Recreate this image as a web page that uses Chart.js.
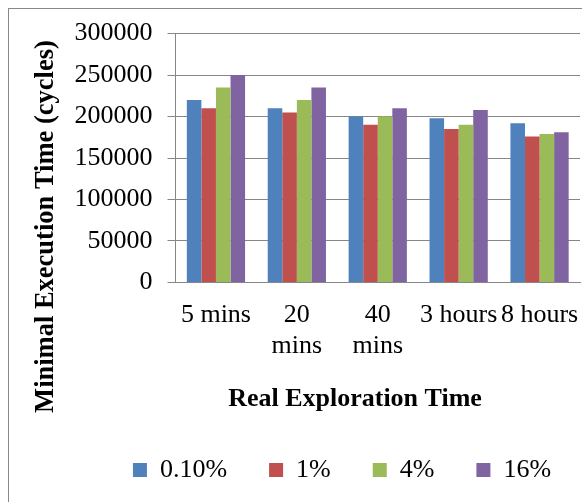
<!DOCTYPE html>
<html>
<head>
<meta charset="utf-8">
<script src="https://cdn.jsdelivr.net/npm/chart.js@4/dist/chart.umd.min.js"></script>
<style>
  html, body { margin: 0; padding: 0; background: #fff; overflow: hidden; width: 582px; height: 502px; }
  #frame { position: absolute; left: 8px; top: 8px; width: 700px; height: 600px;
           border-left: 1px solid #888; border-top: 1px solid #888; background: #fff; }
  canvas { position: absolute; left: 0; top: -6px; }
</style>
</head>
<body>
<div id="frame"><canvas id="c" width="666" height="490"></canvas></div>
<script>
const categories = ['5 mins', ['20', 'mins'], ['40', 'mins'], '3 hours', '8 hours'];
const seriesNames = ['0.10%', '1%', '4%', '16%'];
const s010 = [220000, 210000, 200000, 198000, 192000];
const s1   = [210000, 205000, 190000, 185000, 176000];
const s4   = [235000, 220000, 200000, 190000, 179000];
const s16  = [250000, 235000, 210000, 208000, 181000];
const yTicks = [0, 50000, 100000, 150000, 200000, 250000, 300000];
const colors = ['#4F81BD', '#C0504D', '#9BBB59', '#8064A2'];

const FONT = "'Liberation Serif', 'Times New Roman', serif";
const grey = '#868686';

const datasets = [s010, s1, s4, s16].map((d, i) => ({
  label: seriesNames[i],
  data: d,
  backgroundColor: colors[i],
  borderWidth: 0,
  categoryPercentage: 0.72,
  barPercentage: 1.0
}));

new Chart(document.getElementById('c'), {
  type: 'bar',
  data: { labels: categories, datasets },
  options: {
    responsive: false,
    animation: false,
    devicePixelRatio: 1,
    layout: { padding: { top: 19, left: 0, right: 0, bottom: 0 } },
    plugins: {
      tooltip: { enabled: false },
      legend: {
        position: 'bottom',
        labels: {
          boxWidth: 14, boxHeight: 14, padding: 42,
          color: '#000', font: { family: FONT, size: 26 }
        }
      }
    },
    scales: {
      x: {
        grid: { display: false, drawTicks: false },
        border: { display: true, color: grey, width: 1 },
        ticks: { color: '#000', font: { family: FONT, size: 26 }, padding: 17, maxRotation: 0, autoSkip: false },
        title: {
          display: true, text: 'Real Exploration Time       ',
          color: '#000', font: { family: FONT, size: 26, weight: 'bold' },
          padding: { top: 5, bottom: 0 }
        }
      },
      y: {
        min: 0, max: 300000,
        afterBuildTicks: s => { s.ticks = yTicks.map(v => ({ value: v })); },
        grid: { color: grey, lineWidth: 1, tickLength: 8, drawTicks: true },
        border: { display: true, color: grey, width: 1 },
        ticks: { color: '#000', font: { family: FONT, size: 26 }, padding: 15, callback: v => String(v) },
        title: {
          display: true, text: 'Minimal Execution Time (cycles) ', align: 'end',
          color: '#000', font: { family: FONT, size: 26.5, weight: 'bold' },
          padding: { top: 21, bottom: 10 }
        }
      },
      yRight: {
        position: 'right', display: true,
        grid: { display: false, drawTicks: false },
        border: { display: false },
        ticks: { display: false },
        afterFit: s => { s.width = 95; }
      }
    }
  }
});
</script>
</body>
</html>
